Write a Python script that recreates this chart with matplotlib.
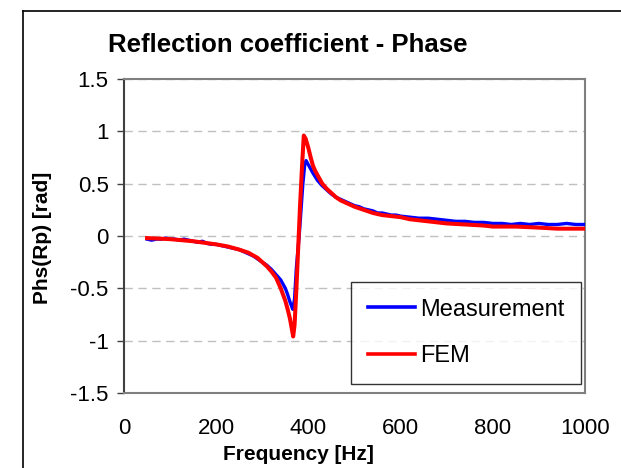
import matplotlib.pyplot as plt
import matplotlib
from matplotlib.lines import Line2D

matplotlib.rcParams['font.family'] = ['Liberation Sans', 'DejaVu Sans']

freq_meas = [50, 60, 70, 80, 90, 100, 110, 120, 130, 140, 150, 160, 170, 180, 190,
             200, 210, 220, 230, 240, 250, 260, 270, 280, 290, 300, 310, 320, 330,
             340, 350, 355, 360, 366, 370, 374, 380, 384, 388, 392, 395, 400, 405,
             410, 420, 430, 440, 450, 460, 470, 480, 490, 500, 510, 520, 530, 540,
             550, 560, 570, 580, 590, 600, 620, 640, 660, 680, 700, 720, 740, 760,
             780, 800, 820, 840, 860, 880, 900, 920, 940, 960, 980, 1000]
phase_meas = [-0.03, -0.04, -0.03, -0.03, -0.02, -0.03, -0.03, -0.04, -0.03, -0.04,
              -0.05, -0.06, -0.05, -0.07, -0.08, -0.08, -0.09, -0.10, -0.11, -0.12,
              -0.13, -0.15, -0.17, -0.19, -0.22, -0.25, -0.28, -0.32, -0.37, -0.42,
              -0.50, -0.56, -0.63, -0.70, -0.60, -0.30, 0.00, 0.25, 0.50, 0.68,
              0.72, 0.68, 0.64, 0.60, 0.53, 0.48, 0.44, 0.40, 0.37, 0.35, 0.33,
              0.31, 0.29, 0.28, 0.26, 0.25, 0.24, 0.22, 0.22, 0.21, 0.20, 0.20,
              0.19, 0.18, 0.17, 0.17, 0.16, 0.15, 0.14, 0.14, 0.13, 0.13, 0.12,
              0.12, 0.11, 0.12, 0.11, 0.12, 0.11, 0.11, 0.12, 0.11, 0.11]

# FEM result
freq_fem = [50, 100, 150, 200, 225, 250, 270, 290, 300, 310, 320, 330, 340, 350,
            355, 360, 367, 370, 374, 378, 382, 386, 390, 394, 400, 405, 410, 415,
            420, 430, 440, 450, 460, 470, 480, 490, 500, 520, 540, 560, 580, 600,
            620, 640, 660, 680, 700, 740, 780, 800, 850, 900, 940, 1000]
phase_fem = [-0.02, -0.03, -0.05, -0.08, -0.10, -0.13, -0.16, -0.21, -0.25, -0.29,
             -0.34, -0.40, -0.50, -0.62, -0.70, -0.79, -0.96, -0.85, -0.50, -0.10,
             0.30, 0.65, 0.96, 0.93, 0.84, 0.75, 0.67, 0.62, 0.58, 0.50, 0.45,
             0.41, 0.37, 0.34, 0.32, 0.30, 0.28, 0.25, 0.22, 0.20, 0.19, 0.18,
             0.16, 0.15, 0.14, 0.13, 0.12, 0.11, 0.10, 0.09, 0.09, 0.08, 0.07, 0.07]

x_ticks = [0, 200, 400, 600, 800, 1000]
y_ticks = [-1.5, -1, -0.5, 0, 0.5, 1, 1.5]
y_tick_labels = ['-1.5', '-1', '-0.5', '0', '0.5', '1', '1.5']

fig = plt.figure(figsize=(6.21, 4.68), dpi=100)
ax = fig.add_axes([124 / 621, 75 / 468, 461 / 621, 314 / 468])

# outer chart border: only the top and left edges fall inside the picture
x0, y0 = 22.5 / 621, 1 - 10.5 / 468
fig.lines.append(Line2D([x0, 1.0], [y0, y0], transform=fig.transFigure,
                        color='black', linewidth=1.2))
fig.lines.append(Line2D([x0, x0], [0.0, y0], transform=fig.transFigure,
                        color='black', linewidth=1.2))

ax.plot(freq_meas, phase_meas, color='#0000FF', linewidth=2.4, label='Measurement',
        solid_joinstyle='round', zorder=3)
ax.plot(freq_fem, phase_fem, color='#FF0000', linewidth=2.9, label='FEM',
        solid_joinstyle='round', zorder=4)

ax.set_xlim(0, 1000)
ax.set_ylim(-1.5, 1.5)
ax.set_xticks(x_ticks)
ax.set_yticks(y_ticks)
ax.set_yticklabels(y_tick_labels)
ax.tick_params(axis='both', labelsize=16)
ax.tick_params(axis='x', length=0, pad=18)
ax.tick_params(axis='y', direction='out', length=5, width=1, color='#404040', pad=6)

ax.grid(True, axis='y', color='#c0c0c0', linestyle=(0, (6, 4)), linewidth=1)
ax.set_axisbelow(True)

for side in ['top', 'right', 'bottom']:
    ax.spines[side].set_color('#808080')
    ax.spines[side].set_linewidth(1.5)
ax.spines['left'].set_color('#404040')
ax.spines['left'].set_linewidth(1.5)

fig.text(288 / 621, 1 - 45 / 468, 'Reflection coefficient - Phase', fontsize=18.5,
         fontweight='bold', ha='center', va='center')
fig.text(298 / 621, 1 - 454 / 468, 'Frequency [Hz]', fontsize=15,
         fontweight='bold', ha='center', va='center')
fig.text(42 / 621, 1 - 238 / 468, 'Phs(Rp) [rad]', fontsize=15,
         fontweight='bold', ha='center', va='center', rotation=90)

leg = ax.legend(loc='lower right', bbox_to_anchor=(0.991, 0.029), fontsize=17,
                frameon=True, fancybox=False, borderaxespad=0, handlelength=2.0,
                handletextpad=0.2, labelspacing=1.05, borderpad=0.7)
leg.get_frame().set_edgecolor('black')
leg.get_frame().set_linewidth(1)
for line in leg.get_lines():
    line.set_linewidth(2.6)

plt.savefig('out.png', dpi=100)
